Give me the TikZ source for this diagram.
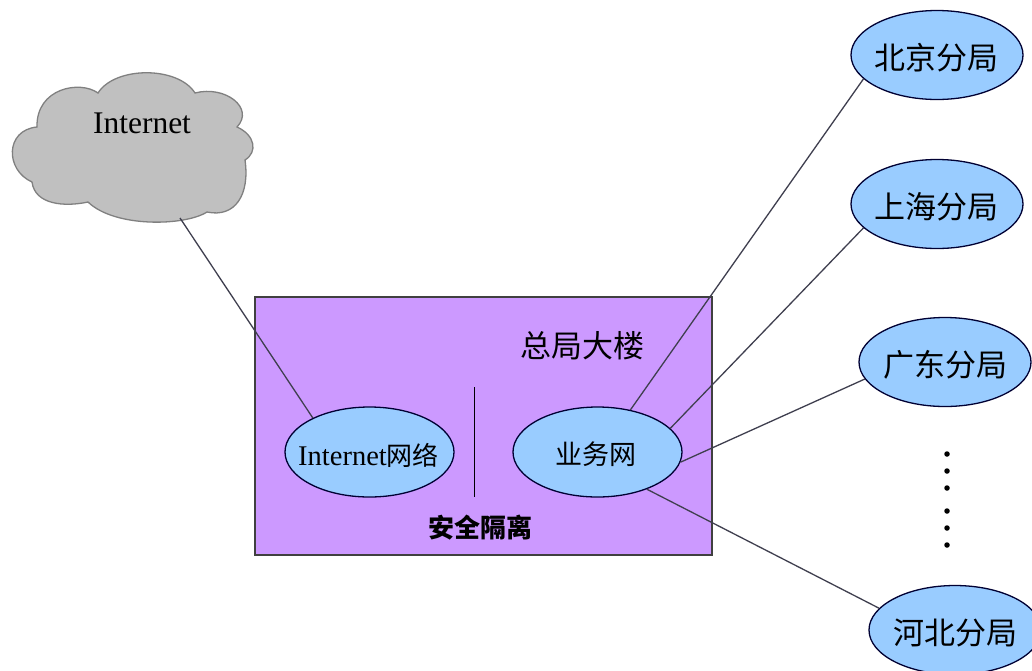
\documentclass[tikz,border=0pt]{standalone}
\usepackage{fontspec}
\usetikzlibrary{shapes.geometric}
\setmainfont{Liberation Serif}
\newfontfamily\cjk{Noto Sans CJK SC}
\newcommand{\ctext}[2][0pt]{\hspace*{#1}\makebox[0pt]{\raisebox{-.48em}[0pt][0pt]{#2}}}
\newcommand{\fs}[1]{\fontsize{#1}{#1}\selectfont}
\definecolor{lilac}{HTML}{CC99FF}
\definecolor{skyb}{HTML}{99CCFF}
\definecolor{cloudg}{HTML}{C0C0C0}
\definecolor{cloude}{HTML}{808080}
\definecolor{wire}{HTML}{3F3F4F}
\tikzset{
  site/.style={ellipse,draw=black!80!blue,line width=1.3pt,fill=skyb,inner sep=0pt,
    minimum width=172pt,minimum height=89pt,font=\cjk\fs{31}},
  net/.style={site,minimum width=169pt,minimum height=90pt,font=\fs{28.5}},
  wirel/.style={draw=wire,line width=1.3pt},
  lab/.style={inner sep=0pt,font=\cjk\fs{31}},
  dotn/.style={circle,fill=black,inner sep=0pt,minimum size=5.5pt}
}
\begin{document}
\begin{tikzpicture}[x=1pt,y=-1pt]
\clip (0,0) rectangle (1032,670);
\fill[white] (0,0) rectangle (1032,670);
% cloud
\draw[fill=cloudg,draw=cloude,line width=1.3pt]
 (98,93) .. controls (115,66) and (178,66) .. (195,93)
 .. controls (225,85) and (255,108) .. (237,127)
 .. controls (255,135) and (258,152) .. (245,160)
 .. controls (250,195) and (235,218) .. (207,212)
 .. controls (185,226) and (115,228) .. (88,202)
 .. controls (65,207) and (35,205) .. (32,182)
 .. controls (5,170) and (5,130) .. (37,127)
 .. controls (36,88) and (80,80) .. (98,93) -- cycle;
\coordinate (cloudfoot) at (180,218);
\node[inner sep=0pt,font=\fs{31.5}] (inet) at (142,123) {Internet};
% building
\node[draw=black!75,line width=1.3pt,fill=lilac,inner sep=0pt,minimum width=457pt,minimum height=258pt] (hq) at (483.5,426) {};
\node[lab] (hqlabel) at (582,346) {总局大楼};
\node[inner sep=0pt,font=\cjk\bfseries\fs{26}] (iso) at (480,528) {安全隔离};
\coordinate (sepa) at (474.5,387);
\coordinate (sepb) at (474.5,497);
\draw[black,line width=1.3pt] (sepa) -- (sepb);
% ellipses
\node[net] (inetnet) at (369.5,452) {\ctext[-2pt]{Internet{\cjk\fs{26}网络}}};
\node[net,font=\cjk\fs{27}] (biz) at (597.5,452) {\ctext[-3pt]{业务网}};
\node[site] (bj) at (937,55) {\ctext[-1pt]{北京分局}};
\node[site] (sh) at (937,204) {\ctext[-1pt]{上海分局}};
\node[site] (gd) at (945,362) {\ctext{广东分局}};
\node[site] (hb) at (955,630) {\ctext{河北分局}};
% connectors
\draw[wirel] (cloudfoot) -- (inetnet.149);
\draw[wirel] (bj.198) -- (biz.52);
\draw[wirel] (sh.198) -- (biz.18);
\draw[wirel] (gd.192) -- (biz.-7);
\draw[wirel] (hb.164) -- (biz.-37);
% dots
\node[dotn] (d1) at (947,454) {};
\node[dotn] (d2) at (947,471) {};
\node[dotn] (d3) at (947,488) {};
\node[dotn] (d4) at (947,511) {};
\node[dotn] (d5) at (947,528) {};
\node[dotn] (d6) at (947,545) {};
\end{tikzpicture}
\end{document}
